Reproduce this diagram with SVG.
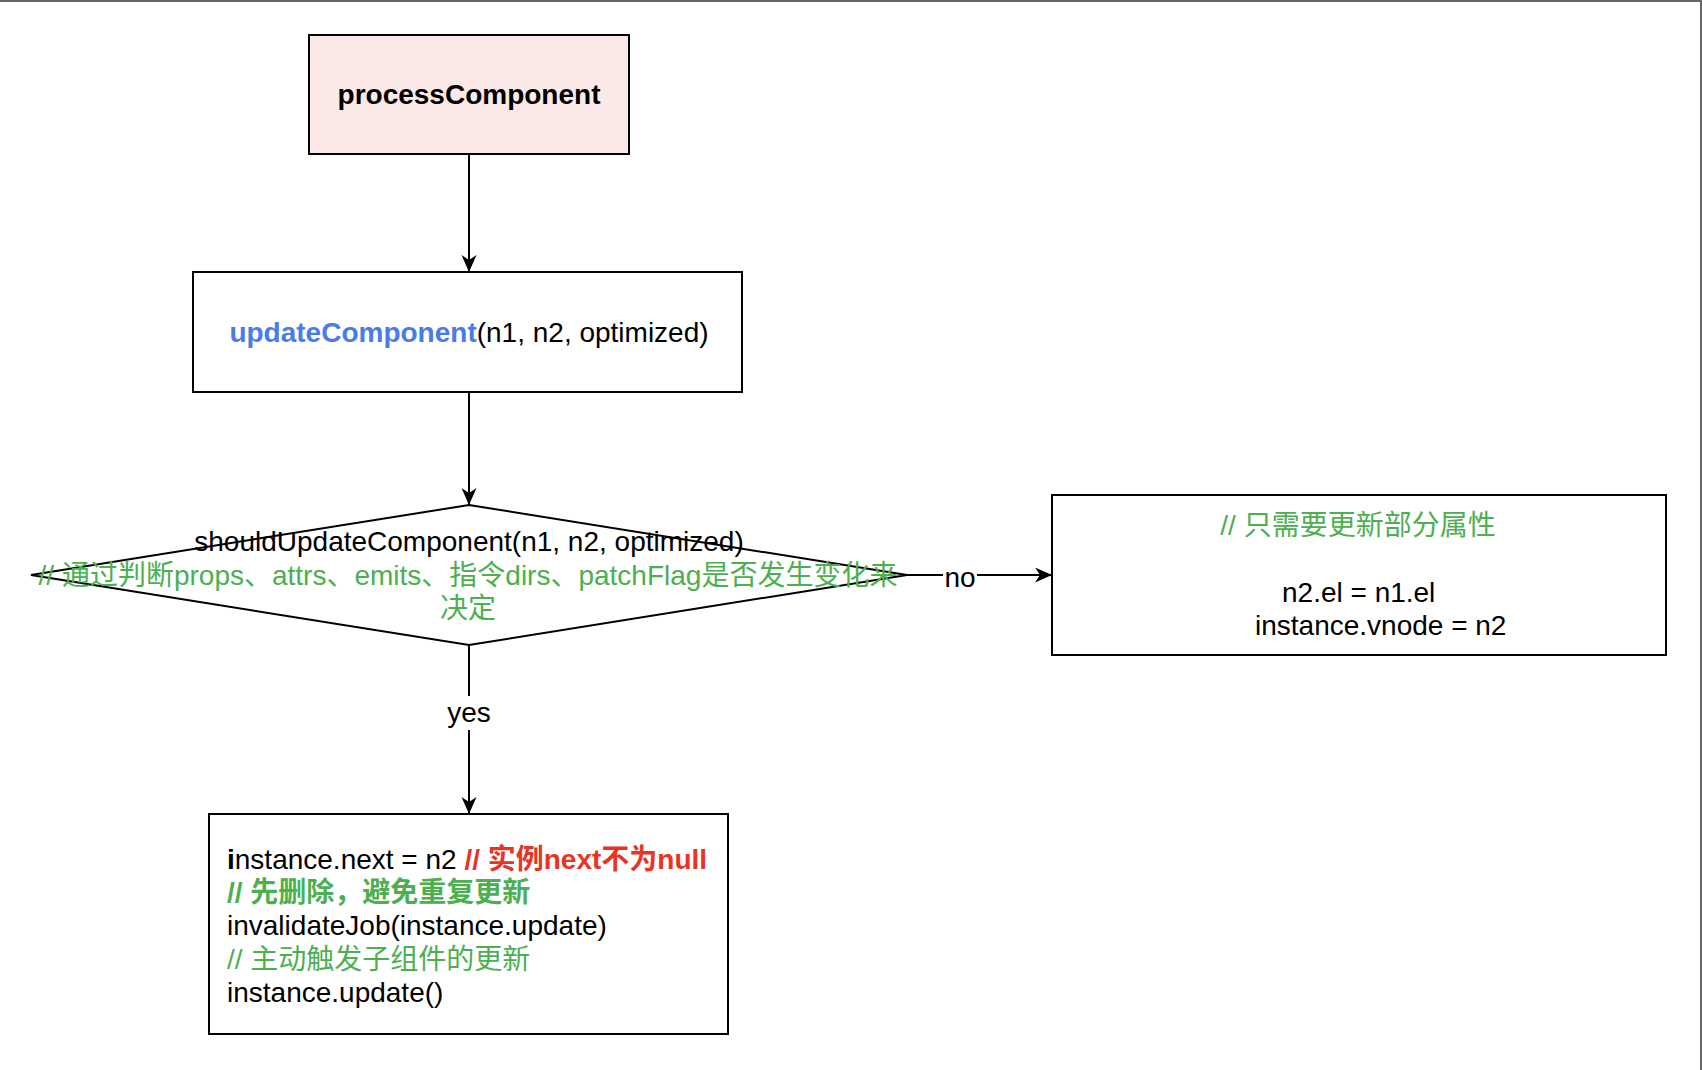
<svg xmlns="http://www.w3.org/2000/svg" width="1702" height="1070" viewBox="0 0 1702 1070">
<style>
text{font-family:"Liberation Sans","Noto Sans CJK SC",sans-serif;font-size:28px;fill:#000}
.b{font-weight:bold}
.blue{fill:#4a7bea}
.green{fill:#4caf50}
.red{fill:#ea3323}
.shape{stroke:#000;stroke-width:2;fill:#fff}
.edge{stroke:#000;stroke-width:2;fill:none}
</style>
<defs>
<marker id="arr" markerWidth="18" markerHeight="16" refX="17" refY="7.5" orient="auto" markerUnits="userSpaceOnUse" viewBox="0 0 18 16">
<path d="M0,0 L17,7.5 L0,15 L5,7.5 Z" fill="#000"/>
</marker>
</defs>
<rect x="0" y="0" width="1702" height="1070" fill="#fff"/>
<rect x="0" y="0" width="1702" height="2" fill="#666"/>
<rect x="1700" y="0" width="2" height="1070" fill="#666"/>

<g id="connectors">
<path class="edge" d="M469,154 L469,272" marker-end="url(#arr)"/>
<path class="edge" d="M469,392 L469,505" marker-end="url(#arr)"/>
<path class="edge" d="M906,575 L1052,575" marker-end="url(#arr)"/>
<path class="edge" d="M469,645 L469,814" marker-end="url(#arr)"/>
<rect x="943" y="560" width="34" height="30" fill="#fff"/>
<text x="960" y="587" text-anchor="middle">no</text>
<rect x="446" y="696" width="46" height="34" fill="#fff"/>
<text x="469" y="722" text-anchor="middle">yes</text>
</g>

<g id="processComponent">
<rect x="309" y="35" width="320" height="119" fill="#fbe9e7" stroke="#000" stroke-width="2"/>
<text x="469" y="104" text-anchor="middle" class="b">processComponent</text>
</g>

<g id="updateComponent">
<rect class="shape" x="193" y="272" width="549" height="120"/>
<text x="469" y="342" text-anchor="middle"><tspan class="b blue">updateComponent</tspan>(n1, n2, optimized)</text>
</g>

<g id="shouldUpdateComponent">
<path class="shape" d="M469,505 L907,575 L469,645 L31,575 Z"/>
<text x="469" y="551" text-anchor="middle">shouldUpdateComponent(n1, n2, optimized)</text>
<text x="468" y="585" text-anchor="middle" class="green">// 通过判断props、attrs、emits、指令dirs、patchFlag是否发生变化来</text>
<text x="468" y="618" text-anchor="middle" class="green">决定</text>
</g>

<g id="partialUpdate">
<rect class="shape" x="1052" y="495" width="614" height="160"/>
<text x="1358" y="535" text-anchor="middle" class="green">// 只需要更新部分属性</text>
<text x="1282" y="602">n2.el = n1.el</text>
<text x="1255" y="635">instance.vnode = n2</text>
</g>

<g id="forceUpdate">
<rect class="shape" x="209" y="814" width="519" height="220"/>
<text x="227" y="869"><tspan class="b">i</tspan>nstance.next = n2 <tspan class="b red">// 实例next不为null</tspan></text>
<text x="227" y="902" class="b green">// 先删除，避免重复更新</text>
<text x="227" y="935">invalidateJob(instance.update)</text>
<text x="227" y="969" class="green">// 主动触发子组件的更新</text>
<text x="227" y="1002">instance.update()</text>
</g>
</svg>
